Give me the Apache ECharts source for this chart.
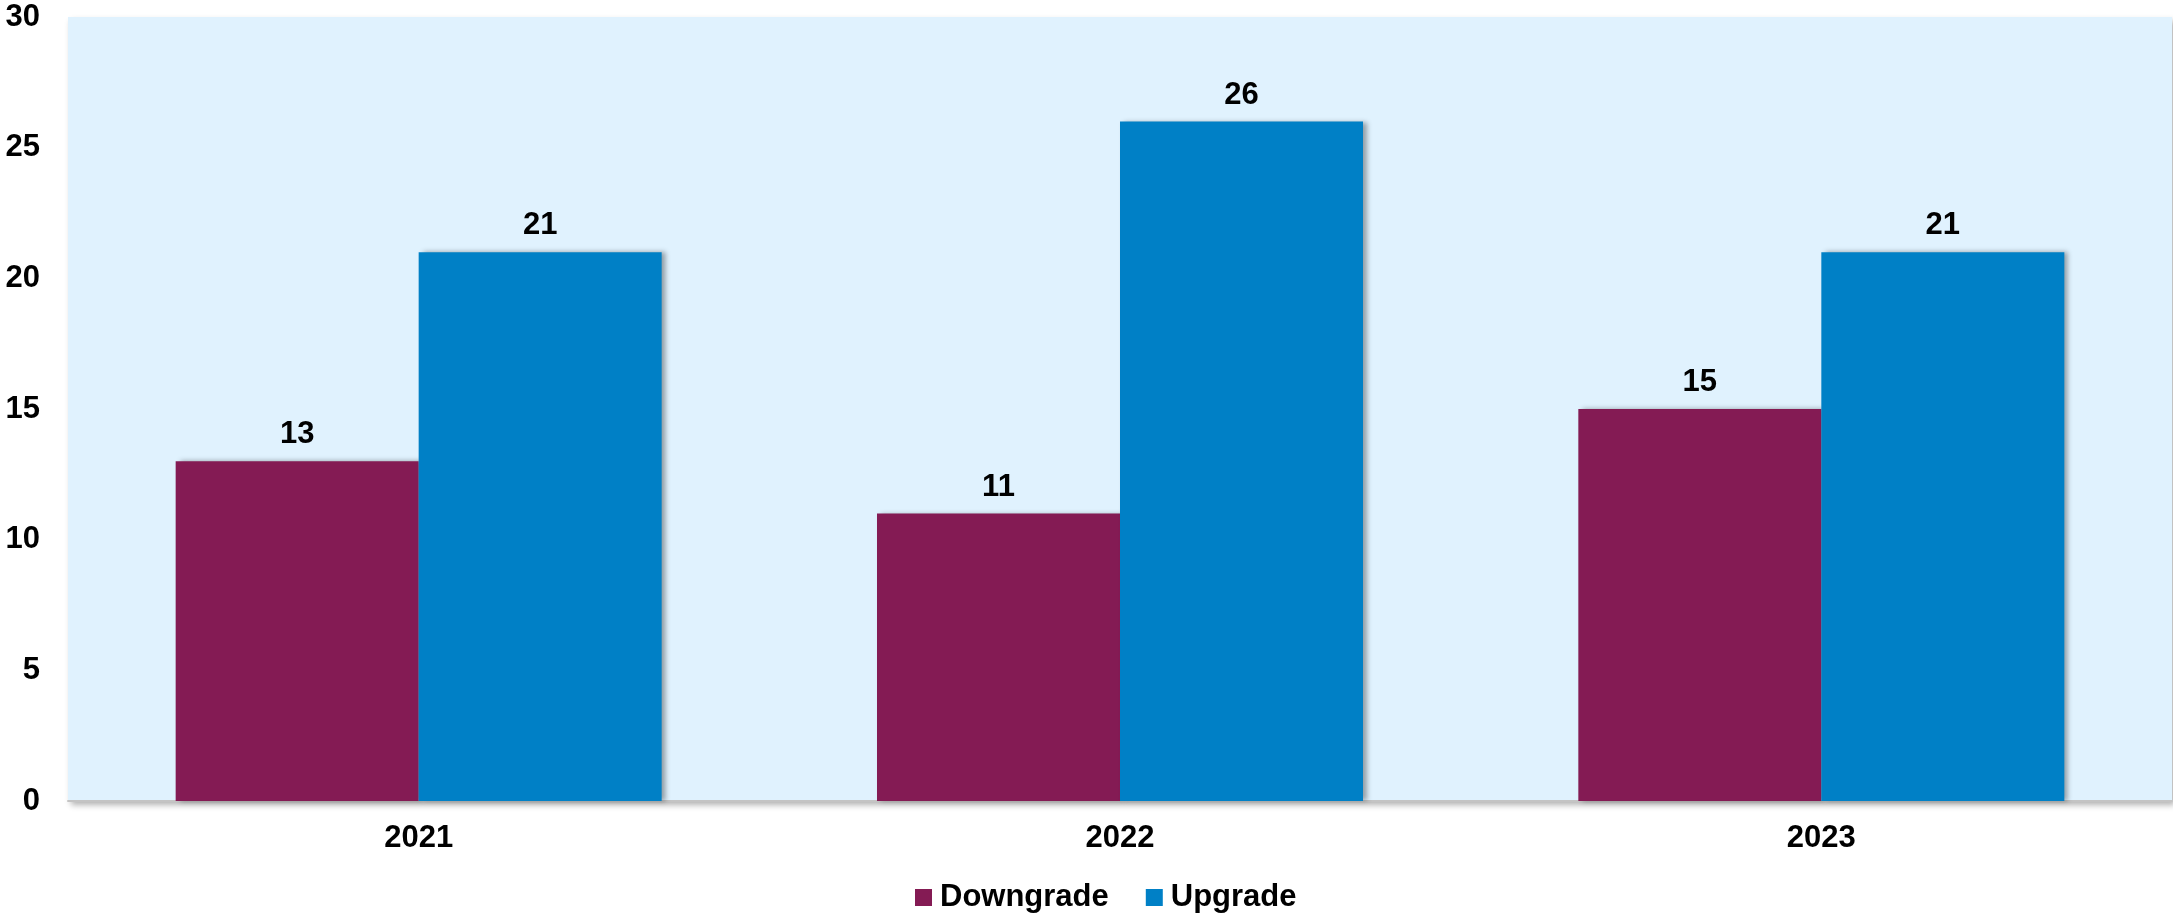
<!DOCTYPE html>
<html>
<head>
<meta charset="utf-8">
<script src="https://cdn.jsdelivr.net/npm/echarts@6/dist/echarts.min.js"></script>
<style>
  html, body { margin: 0; padding: 0; background: #ffffff; }
  #chart { width: 2173px; height: 916px; }
</style>
</head>
<body>
<div id="chart"></div>
<script>
// Rating changes per year
const years = ['2021', '2022', '2023'];
const downgrade = [13, 11, 15];
const upgrade = [21, 26, 21];
const seriesNames = ['Downgrade', 'Upgrade'];

const FONT = '"Liberation Sans", Arial, sans-serif';
const labelStyle = { fontFamily: FONT, fontWeight: 'bold', fontSize: 31, color: '#000' };
const barShadow = {
  shadowColor: 'rgba(0,0,0,0.35)',
  shadowBlur: 5,
  shadowOffsetX: 4,
  shadowOffsetY: 0
};

const chart = echarts.init(document.getElementById('chart'), null, { renderer: 'canvas' });
chart.setOption({
  backgroundColor: '#ffffff',
  animation: false,
  grid: {
    left: 68, right: 1, top: 17, bottom: 115,
    show: true,
    backgroundColor: '#E0F2FE',
    borderWidth: 0,
    shadowColor: 'rgba(0,0,0,0.3)',
    shadowBlur: 6,
    shadowOffsetX: 3,
    shadowOffsetY: 4
  },
  legend: {
    data: seriesNames,
    left: 910,
    top: 877,
    itemWidth: 17,
    itemHeight: 17,
    itemGap: 37,
    icon: 'rect',
    textStyle: Object.assign({}, labelStyle, { padding: [0, 0, 0, 3] })
  },
  xAxis: {
    type: 'category',
    data: years,
    axisLine: { show: true, lineStyle: { color: '#c4c4c4', width: 2 } },
    axisTick: { show: false },
    axisLabel: Object.assign({}, labelStyle, { margin: 22 }),
    splitLine: { show: false }
  },
  yAxis: {
    type: 'value',
    min: 0, max: 30, interval: 5,
    axisLine: { show: false },
    axisTick: { show: false },
    splitLine: { show: false },
    axisLabel: Object.assign({}, labelStyle, { margin: 28 })
  },
  series: [
    {
      name: seriesNames[0],
      type: 'bar',
      data: downgrade,
      barWidth: 243,
      barGap: '0%',
      itemStyle: Object.assign({ color: '#841B54' }, barShadow),
      label: Object.assign({ show: true, position: 'top', distance: 11 }, labelStyle)
    },
    {
      name: seriesNames[1],
      type: 'bar',
      data: upgrade,
      barWidth: 243,
      barGap: '0%',
      itemStyle: Object.assign({ color: '#0080C6' }, barShadow),
      label: Object.assign({ show: true, position: 'top', distance: 11 }, labelStyle)
    }
  ]
});
</script>
</body>
</html>
